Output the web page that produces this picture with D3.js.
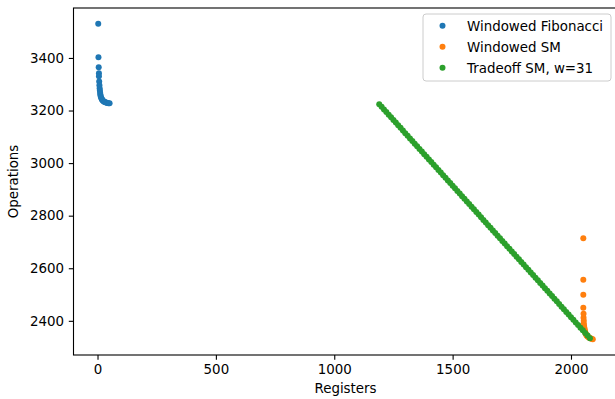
<!DOCTYPE html>
<html>
<head>
<meta charset="utf-8">
<script src="https://cdn.jsdelivr.net/npm/d3@7"></script>
<style>
  html, body { margin: 0; padding: 0; background: #fff; }
  svg { display: block; font-family: "DejaVu Sans", sans-serif; }
</style>
</head>
<body>
<svg id="chart" width="615" height="399"></svg>
<script>
// Windowed Fibonacci: registers vs operations
const fibRegisters = [3, 4, 5, 6, 6, 7, 8, 9, 10, 11, 12, 13, 15, 17, 19, 21, 24, 27, 30, 34, 38, 42, 46, 51];
const fibOps = [3530, 3403, 3365, 3342, 3330, 3310, 3296, 3285, 3276, 3268, 3261, 3255, 3250, 3246, 3242, 3239, 3236, 3234, 3232, 3231, 3230, 3229, 3228, 3228];

// Windowed SM
const smRegisters = [2052, 2052, 2052, 2052, 2053, 2053, 2054, 2054, 2055, 2056, 2057, 2058, 2059, 2061, 2063, 2065, 2067, 2070, 2073, 2077, 2082, 2087, 2092];
const smOps = [2714, 2556, 2499, 2450, 2427, 2412, 2400, 2390, 2382, 2375, 2369, 2364, 2359, 2354, 2350, 2346, 2343, 2340, 2338, 2336, 2334, 2332, 2330];

// Tradeoff SM, w=31
const tradeoffRegisters = [1190,1200,1210,1220,1230,1240,1250,1260,1270,1280,1290,1300,1310,1320,1330,1340,1350,1360,1370,1380,1390,1400,1410,1420,1430,1440,1450,1460,1470,1480,1490,1500,1510,1520,1530,1540,1550,1560,1570,1580,1590,1600,1610,1620,1630,1640,1650,1660,1670,1680,1690,1700,1710,1720,1730,1740,1750,1760,1770,1780,1790,1800,1810,1820,1830,1840,1850,1860,1870,1880,1890,1900,1910,1920,1930,1940,1950,1960,1970,1980,1990,2000,2010,2020,2030,2040,2050,2060,2070,2080];
const tradeoffOps = [3224,3214,3204,3194,3184,3174,3164,3154,3144,3134,3124,3114,3104,3094,3084,3074,3064,3054,3044,3034,3024,3014,3004,2994,2984,2974,2964,2954,2944,2934,2924,2914,2904,2894,2884,2874,2864,2854,2844,2834,2824,2814,2804,2794,2784,2774,2764,2754,2744,2734,2724,2714,2704,2694,2684,2674,2664,2654,2644,2634,2624,2614,2604,2594,2584,2574,2564,2554,2544,2534,2524,2514,2504,2494,2484,2474,2464,2454,2444,2434,2424,2414,2404,2394,2384,2374,2364,2354,2344,2334];

const seriesNames = ["Windowed Fibonacci", "Windowed SM", "Tradeoff SM, w=31"];
const seriesColors = ["#1f77b4", "#ff7f0e", "#2ca02c"];
const xTicks = [0, 500, 1000, 1500, 2000];
const yTicks = [2400, 2600, 2800, 3000, 3200, 3400];

const series = [
  { name: seriesNames[0], color: seriesColors[0], pts: fibRegisters.map((r, i) => [r, fibOps[i]]) },
  { name: seriesNames[1], color: seriesColors[1], pts: smRegisters.map((r, i) => [r, smOps[i]]) },
  { name: seriesNames[2], color: seriesColors[2], pts: tradeoffRegisters.map((r, i) => [r, tradeoffOps[i]]) }
];

const fontSize = 13.4;
const margin = { left: 73.5, top: 8 };
const width = 544, height = 347;

const svg = d3.select("#chart");
const g = svg.append("g").attr("transform", `translate(${margin.left},${margin.top})`);

const all = series.flatMap(s => s.pts);
function padded(ext) { const p = (ext[1] - ext[0]) * 0.05; return [ext[0] - p, ext[1] + p]; }
const x = d3.scaleLinear().domain(padded(d3.extent(all, d => d[0]))).range([0, width]);
const y = d3.scaleLinear().domain(padded(d3.extent(all, d => d[1]))).range([height, 0]);

// points
const plot = g.append("g");
series.forEach(s => {
  plot.append("g").selectAll("circle").data(s.pts).join("circle")
    .attr("cx", d => x(d[0])).attr("cy", d => y(d[1]))
    .attr("r", 3).attr("fill", s.color);
});

// axes
const fmt = d3.format("d");
const xAxis = g.append("g").attr("transform", `translate(0,${height})`)
  .call(d3.axisBottom(x).tickValues(xTicks).tickFormat(fmt).tickSize(4.7).tickPadding(4.7).tickSizeOuter(0));
const yAxis = g.append("g")
  .call(d3.axisLeft(y).tickValues(yTicks).tickFormat(fmt).tickSize(4.7).tickPadding(4.7).tickSizeOuter(0));
[xAxis, yAxis].forEach(a => {
  a.select(".domain").remove();
  a.selectAll(".tick line").attr("stroke", "#000").attr("stroke-width", 1.1);
  a.selectAll(".tick text").attr("fill", "#000").style("font-size", fontSize + "px")
    .style("font-family", "DejaVu Sans");
});

// frame
g.append("rect").attr("x", 0).attr("y", 0).attr("width", width).attr("height", height)
  .attr("fill", "none").attr("stroke", "#000").attr("stroke-width", 1.1);

// axis labels
g.append("text").attr("x", width / 2).attr("y", height + 38)
  .attr("text-anchor", "middle").style("font-size", fontSize + "px").text("Registers");
g.append("text").attr("transform", `translate(${-56},${height / 2}) rotate(-90)`)
  .attr("text-anchor", "middle").style("font-size", fontSize + "px").text("Operations");

// legend
const lg = svg.append("g").attr("transform", "translate(423,14)");
lg.append("rect").attr("width", 188).attr("height", 67).attr("rx", 3)
  .attr("fill", "#fff").attr("fill-opacity", 0.8).attr("stroke", "#cccccc").attr("stroke-width", 1);
series.forEach((s, i) => {
  const cy = 11.7 + i * 21;
  lg.append("circle").attr("cx", 19.5).attr("cy", cy).attr("r", 3).attr("fill", s.color);
  lg.append("text").attr("x", 44).attr("y", cy).attr("dy", "0.36em")
    .style("font-size", fontSize + "px").attr("fill", "#000").text(s.name);
});
</script>
</body>
</html>
